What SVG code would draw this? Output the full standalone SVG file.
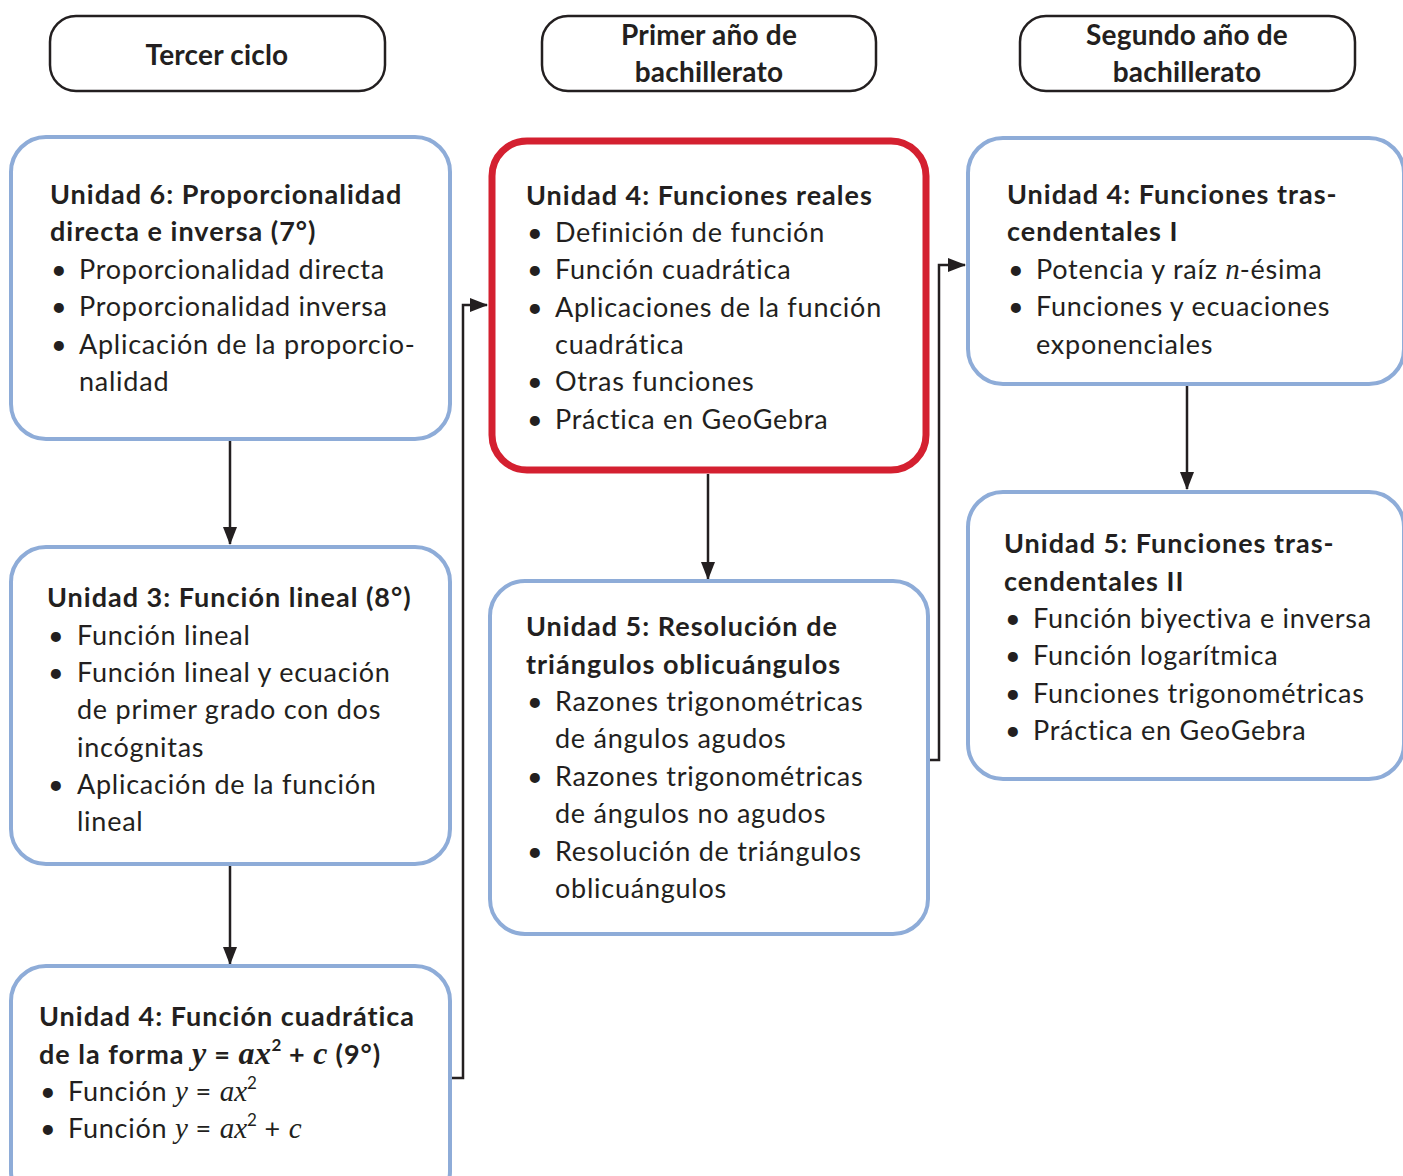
<svg xmlns="http://www.w3.org/2000/svg" width="1403" height="1176" viewBox="0 0 1403 1176">
<style>
text{font-family:Lato,"Open Sans","Liberation Sans",sans-serif;fill:#231F20;font-size:27px;letter-spacing:0.75px}
.b{font-weight:bold;letter-spacing:1px}
.h{font-weight:bold;text-anchor:middle;font-size:28px;letter-spacing:0.2px}
.m{font-family:"Liberation Serif","DejaVu Serif",serif;font-style:italic;font-size:29px;letter-spacing:0}
.mb{font-family:"Liberation Serif","DejaVu Serif",serif;font-style:italic;font-size:32px;letter-spacing:0.5px}
.s{font-size:17px;letter-spacing:0}
.hdr{fill:#fff;stroke:#231F20;stroke-width:2.5}
.box{fill:#fff;stroke:#8EACD8;stroke-width:4}
.red{fill:#fff;stroke:#D42030;stroke-width:7}
.c{fill:none;stroke:#231F20;stroke-width:2.5}
</style>
<defs>
<marker id="ar" viewBox="0 0 18 14" refX="17" refY="7" markerWidth="18" markerHeight="14" orient="auto" markerUnits="userSpaceOnUse">
<path d="M0,0L18,7L0,14z" fill="#231F20"/>
</marker>
</defs>
<g id="connectors">
<path class="c" d="M230,441V544" marker-end="url(#ar)"/>
<path class="c" d="M230,866V964" marker-end="url(#ar)"/>
<path class="c" d="M708,474V579" marker-end="url(#ar)"/>
<path class="c" d="M1187,386V489" marker-end="url(#ar)"/>
<path class="c" d="M452,1078H463V305H487" marker-end="url(#ar)"/>
<path class="c" d="M930,760H939V265H965" marker-end="url(#ar)"/>
</g>
<g id="h1"><rect class="hdr" x="50" y="16" width="335" height="75" rx="26"/><text class="h" x="217" y="65">Tercer ciclo</text></g>
<g id="h2"><rect class="hdr" x="542" y="16" width="334" height="75" rx="26"/><text class="h" x="709" y="45">Primer año de</text><text class="h" x="709" y="82">bachillerato</text></g>
<g id="h3"><rect class="hdr" x="1020" y="16" width="335" height="75" rx="26"/><text class="h" x="1187" y="45">Segundo año de</text><text class="h" x="1187" y="82">bachillerato</text></g>
<g id="n1"><rect class="box" x="11" y="137" width="439" height="302" rx="35"/>
<text class="b" x="50" y="204">Unidad 6: Proporcionalidad</text>
<text class="b" x="50" y="241">directa e inversa (7°)</text>
<text x="51" y="279">•</text><text x="79" y="279">Proporcionalidad directa</text>
<text x="51" y="316">•</text><text x="79" y="316">Proporcionalidad inversa</text>
<text x="51" y="354">•</text><text x="79" y="354">Aplicación de la proporcio-</text>
<text x="79" y="391">nalidad</text>
</g>
<g id="n2"><rect class="box" x="11" y="547" width="439" height="317" rx="35"/>
<text class="b" x="47" y="607">Unidad 3: Función lineal (8°)</text>
<text x="48" y="645">•</text><text x="77" y="645">Función lineal</text>
<text x="48" y="682">•</text><text x="77" y="682">Función lineal y ecuación</text>
<text x="77" y="719">de primer grado con dos</text>
<text x="77" y="757">incógnitas</text>
<text x="48" y="794">•</text><text x="77" y="794">Aplicación de la función</text>
<text x="77" y="831">lineal</text>
</g>
<g id="n3"><rect class="box" x="11" y="966" width="439" height="240" rx="35"/>
<text class="b" x="39" y="1026">Unidad 4: Función cuadrática</text>
<text class="b" x="39" y="1064">de la forma <tspan class="mb">y</tspan> = <tspan class="mb">ax</tspan><tspan class="s" dy="-13">2</tspan><tspan dy="13"> + </tspan><tspan class="mb">c</tspan> (9°)</text>
<text x="40" y="1101">•</text><text x="68" y="1101">Función <tspan class="m">y</tspan> = <tspan class="m">ax</tspan><tspan class="s" dy="-12">2</tspan></text>
<text x="40" y="1138">•</text><text x="68" y="1138">Función <tspan class="m">y</tspan> = <tspan class="m">ax</tspan><tspan class="s" dy="-12">2</tspan><tspan dy="12"> + </tspan><tspan class="m">c</tspan></text>
</g>
<g id="n4"><rect class="red" x="492" y="141" width="434" height="329" rx="35"/>
<text class="b" x="526" y="205">Unidad 4: Funciones reales</text>
<text x="527" y="242">•</text><text x="555" y="242">Definición de función</text>
<text x="527" y="279">•</text><text x="555" y="279">Función cuadrática</text>
<text x="527" y="317">•</text><text x="555" y="317">Aplicaciones de la función</text>
<text x="555" y="354">cuadrática</text>
<text x="527" y="391">•</text><text x="555" y="391">Otras funciones</text>
<text x="527" y="429">•</text><text x="555" y="429">Práctica en GeoGebra</text>
</g>
<g id="n5"><rect class="box" x="490" y="581" width="438" height="353" rx="35"/>
<text class="b" x="526" y="636">Unidad 5: Resolución de</text>
<text class="b" x="526" y="674">triángulos oblicuángulos</text>
<text x="527" y="711">•</text><text x="555" y="711">Razones trigonométricas</text>
<text x="555" y="748">de ángulos agudos</text>
<text x="527" y="786">•</text><text x="555" y="786">Razones trigonométricas</text>
<text x="555" y="823">de ángulos no agudos</text>
<text x="527" y="861">•</text><text x="555" y="861">Resolución de triángulos</text>
<text x="555" y="898">oblicuángulos</text>
</g>
<g id="n6"><rect class="box" x="968" y="138" width="436" height="246" rx="35"/>
<text class="b" x="1007" y="204">Unidad 4: Funciones tras-</text>
<text class="b" x="1007" y="241">cendentales I</text>
<text x="1008" y="279">•</text><text x="1036" y="279">Potencia y raíz <tspan class="m">n</tspan>-ésima</text>
<text x="1008" y="316">•</text><text x="1036" y="316">Funciones y ecuaciones</text>
<text x="1036" y="354">exponenciales</text>
</g>
<g id="n7"><rect class="box" x="968" y="492" width="436" height="287" rx="35"/>
<text class="b" x="1004" y="553">Unidad 5: Funciones tras-</text>
<text class="b" x="1004" y="591">cendentales II</text>
<text x="1005" y="628">•</text><text x="1033" y="628">Función biyectiva e inversa</text>
<text x="1005" y="665">•</text><text x="1033" y="665">Función logarítmica</text>
<text x="1005" y="703">•</text><text x="1033" y="703">Funciones trigonométricas</text>
<text x="1005" y="740">•</text><text x="1033" y="740">Práctica en GeoGebra</text>
</g>
</svg>
